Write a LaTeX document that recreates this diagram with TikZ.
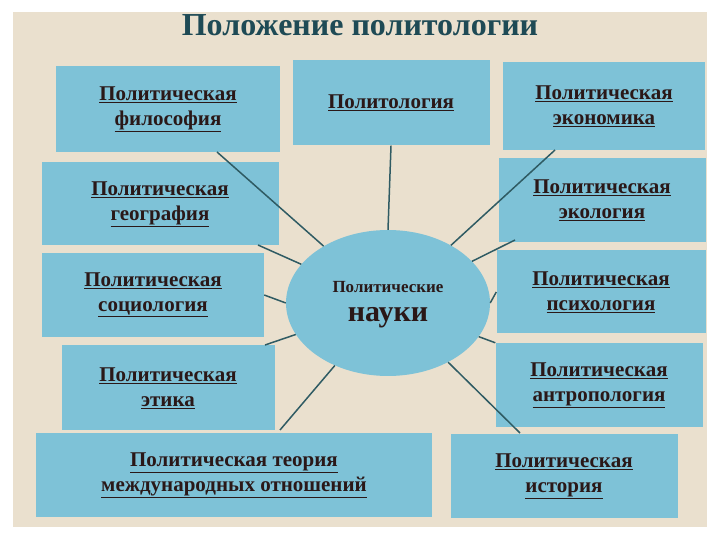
\documentclass[tikz,border=0pt]{standalone}
\usepackage{fontspec}
\setmainfont{Liberation Serif}
\usetikzlibrary{shapes.geometric}
\definecolor{bg}{HTML}{EAE0CE}
\definecolor{bx}{HTML}{7EC2D7}
\definecolor{ln}{HTML}{2F5B63}
\definecolor{tt}{HTML}{1E4A55}
\definecolor{tx}{HTML}{2A1818}
\newcommand{\ul}[1]{\underline{#1}}
\tikzset{
 box/.style={fill=bx,draw=none,inner sep=0pt,font=\fontsize{21}{25}\selectfont\bfseries,text=tx,align=center},
 conn/.style={draw=ln,line width=1.5pt}
}
\begin{document}
\begin{tikzpicture}[x=1pt,y=1pt]
\useasboundingbox (0,0) rectangle (720,540);
\fill[white] (0,0) rectangle (720,540);
\fill[bg] (13,13) rectangle (707,528);
\node[font=\fontsize{32}{36}\selectfont\bfseries,text=tt] (title) at (360,515) {Положение политологии};
% ellipse
\node[ellipse,fill=bx,minimum width=204,minimum height=146,inner sep=0pt] (c) at (388,237) {};
% boxes: corners (x1,y1top)-(x2,y2bottom) in pixel coords
\node[box,minimum width=224,minimum height=86] (fil) at (168,431) {\ul{Политическая}\\\ul{философия}};
\node[box,minimum width=197,minimum height=85] (pol) at (391,437) {\ul{Политология}};
\node[box,minimum width=202,minimum height=88] (eco) at (604,434) {\ul{Политическая}\\\ul{экономика}};
\node[box,minimum width=237,minimum height=83] (geo) at (160,336) {\ul{Политическая}\\\ul{география}};
\node[box,minimum width=207,minimum height=84] (ecl) at (602,340) {\ul{Политическая}\\\ul{экология}};
\node[box,minimum width=222,minimum height=84] (soc) at (153,245) {\ul{Политическая}\\\ul{социология}};
\node[box,minimum width=209,minimum height=83] (psy) at (601,248) {\ul{Политическая}\\\ul{психология}};
\node[box,minimum width=213,minimum height=85] (eth) at (168,152) {\ul{Политическая}\\\ul{этика}};
\node[box,minimum width=207,minimum height=84] (ant) at (599,155) {\ul{Политическая}\\\ul{антропология}};
\node[box,minimum width=396,minimum height=84] (ir) at (234,65) {\ul{Политическая теория}\\\ul{международных отношений}};
\node[box,minimum width=227,minimum height=84] (his) at (564,64) {\ul{Политическая}\\\ul{история}};
\node[font=\fontsize{17}{20}\selectfont\bfseries,text=tx] (c1) at (388,253) {Политические};
\node[font=\fontsize{30}{34}\selectfont\bfseries,text=tx] (c2) at (388,222) {науки};
% connectors
\draw[conn] (217,388) -- (c);
\draw[conn] (pol.south) -- (c.north);
\draw[conn] (258,295) -- (c);
\draw[conn] (soc.east) -- (c.west);
\draw[conn] (265,195) -- (c);
\draw[conn] (280,110) -- (c);
\draw[conn] (555,390) -- (c);
\draw[conn] (515,300) -- (c);
\draw[conn] (psy.west) -- (c.east);
\draw[conn] (ant.north west) -- (c);
\draw[conn] (520,107) -- (c);
\end{tikzpicture}
\end{document}
